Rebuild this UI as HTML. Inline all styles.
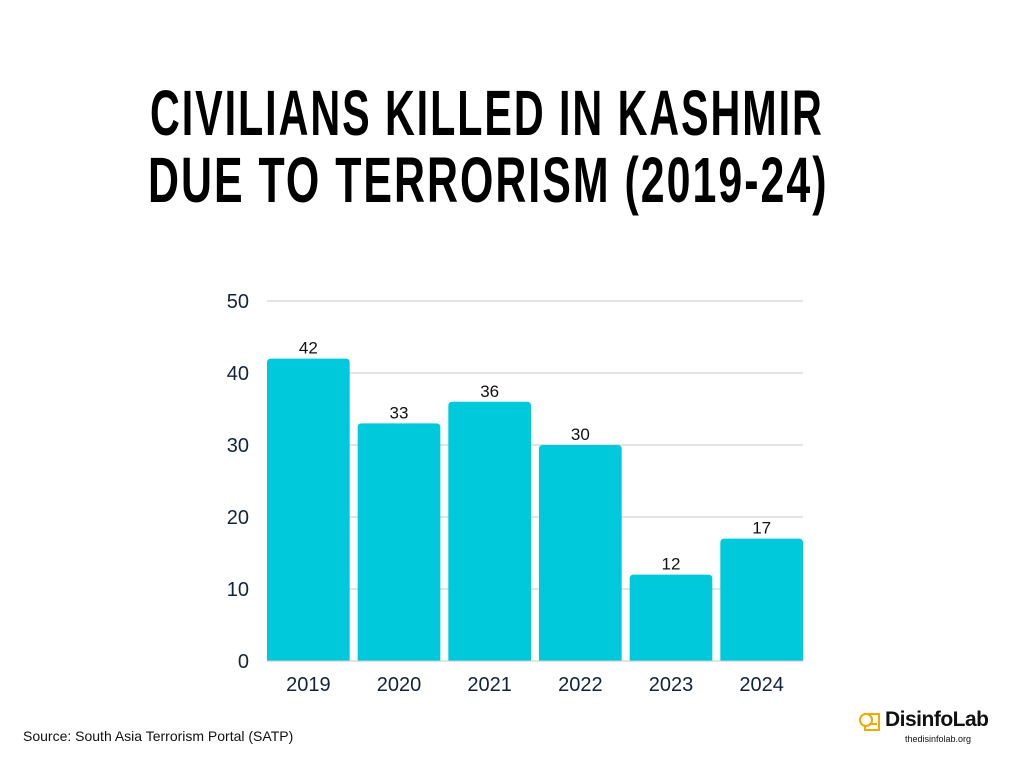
<!DOCTYPE html>
<html><head><meta charset="utf-8"><style>
body{margin:0;width:1024px;height:768px;background:#fff;overflow:hidden;font-family:"Liberation Sans",sans-serif;position:relative}
.title{position:absolute;font-weight:bold;font-size:64px;letter-spacing:3px;color:#000;line-height:64px;white-space:nowrap;transform-origin:left top}
</style></head><body>
<div class="title" style="top:81px;left:150px;transform:scaleX(0.645)">CIVILIANS KILLED IN KASHMIR</div>
<div class="title" style="top:148px;left:148px;transform:scaleX(0.67)">DUE TO TERRORISM (2019-24)</div>
<svg id="chart" width="1024" height="768" style="position:absolute;left:0;top:0"></svg>
<div style="position:absolute;left:23px;top:728px;font-size:14px;color:#111">Source: South Asia Terrorism Portal (SATP)</div>
<div style="position:absolute;left:857px;top:708px;width:110px;height:40px">
<svg width="26" height="26" style="position:absolute;left:0;top:2px"><rect x="8" y="4" width="14" height="16" fill="none" stroke="#f5a800" stroke-width="2"/><circle cx="9" cy="10" r="6" fill="#fff" stroke="#f5a800" stroke-width="2"/><line x1="12" y1="14" x2="20" y2="14" stroke="#f5a800" stroke-width="2"/></svg>
<div style="position:absolute;left:28px;top:0;font-size:21px;font-weight:bold;color:#111;letter-spacing:-0.5px">DisinfoLab</div>
<div style="position:absolute;left:48px;top:26px;font-size:9px;color:#111">thedisinfolab.org</div>
</div>
<script>
const categories=["2019","2020","2021","2022","2023","2024"];
const values=[42,33,36,30,12,17];
const ticks=[0,10,20,30,40,50];
const svg=document.getElementById('chart');
const NS='http://www.w3.org/2000/svg';
const x0=267,x1=803,y0=661,yMax=50,yPix=360;
const band=(x1-x0+8)/categories.length;
function y(v){return y0-v/yMax*yPix;}
function xb(i){return x0+i*band;}
function mk(t,a,txt){const e=document.createElementNS(NS,t);for(const k in a)e.setAttribute(k,a[k]);if(txt!==undefined)e.textContent=txt;svg.appendChild(e);return e;}
ticks.forEach(t=>{
 if(t>0){const g=mk('line',{x1:x0,x2:x1,y1:y(t),y2:y(t),stroke:'#c8c8c8','stroke-width':1});
 
 }
 const l=mk('text',{x:249,y:y(t)+7,'text-anchor':'end','font-size':20,fill:'#13233a','font-family':'Liberation Sans'},t);
 
 
});
categories.forEach((c,i)=>{
 const w=band-8,bx=xb(i),top=y(values[i]),r=4;
 const p=mk('path',{d:`M${bx},${y0}V${top+r}Q${bx},${top} ${bx+r},${top}H${bx+w-r}Q${bx+w},${top} ${bx+w},${top+r}V${y0}Z`,fill:'#00c9db'});
 
 
 const v=mk('text',{x:bx+w/2,y:top-5,'text-anchor':'middle','font-size':17,fill:'#111','font-family':'Liberation Sans'},values[i]);
 
 
 const xl=mk('text',{x:bx+w/2,y:691,'text-anchor':'middle','font-size':20,fill:'#13233a','font-family':'Liberation Sans'},c);
 
 
});
const ax=mk('line',{x1:x0,x2:x1,y1:y0,y2:y0,stroke:'#c8c8c8','stroke-width':1});


</script>
</body></html>
